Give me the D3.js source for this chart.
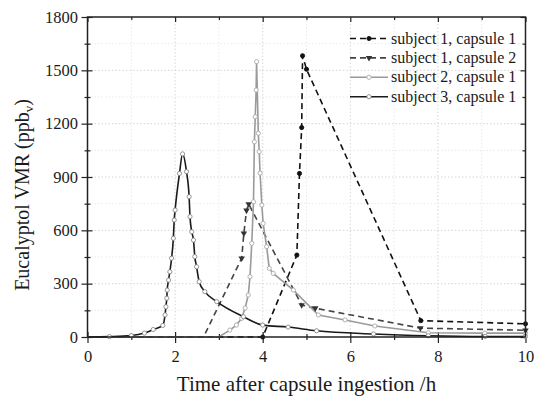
<!DOCTYPE html>
<html>
<head>
<meta charset="utf-8">
<script src="https://cdn.jsdelivr.net/npm/d3@7"></script>
<style>
  body { margin: 0; background: #fff; }
  svg text { font-family: "Liberation Serif", "Times New Roman", serif; fill: #1a1a1a; }
</style>
</head>
<body>
<svg id="chart" width="535" height="402"></svg>
<script>
// tick values
const xMajor = [0, 2, 4, 6, 8, 10];
const xMinor = [1, 3, 5, 7, 9];
const yMajor = [0, 300, 600, 900, 1200, 1500, 1800];
const yMinor = [150, 450, 750, 1050, 1350, 1650];

// series: [time h, VMR ppbv]
const s1c1 = [[0,0],[4.0,0],[4.78,461],[4.84,920],[4.89,1178],[4.91,1582],[5.0,1506],[7.61,92],[10,74]];
const s1c2 = [[0,0],[2.65,0],[3.52,443],[3.57,583],[3.63,712],[3.68,748],[4.89,180],[5.2,162],[7.6,50],[10,38]];
const s2c1 = [[0,0],[3.0,0],[3.25,39],[3.4,67],[3.52,105],[3.6,163],[3.67,236],[3.71,339],[3.75,527],[3.79,761],
  [3.81,1098],[3.83,1239],[3.85,1389],[3.86,1549],[3.9,1146],[3.92,1042],[3.94,922],[3.98,742],[4.01,639],
  [4.09,508],[4.15,386],[4.24,358],[4.7,264],[5.27,124],[5.88,96],[6.56,62],[7.78,24],[9.07,22],[10,22]];
const s3c1 = [[0,0],[0.5,2],[1.0,8],[1.3,22],[1.5,42],[1.72,65],[1.77,124],[1.79,170],[1.81,218],[1.82,264],
  [1.85,320],[1.88,367],[1.92,443],[1.96,555],[1.98,658],[2.0,714],[2.1,920],[2.17,1030],[2.26,930],[2.32,789],
  [2.34,677],[2.38,592],[2.42,545],[2.45,452],[2.49,395],[2.55,311],[2.68,255],[2.95,199],[3.56,114],[4.0,67],
  [4.58,56],[5.23,35],[6.53,17],[7.78,7],[9.08,3],[10,3]];

const seriesNames = ["subject 1, capsule 1", "subject 1, capsule 2", "subject 2, capsule 1", "subject 3, capsule 1"];

const series = [
  { name: seriesNames[0], data: s1c1, color: "#111", dash: "6,4", marker: "circle", mFill: "#111", mStroke: "#111", curve: d3.curveLinear },
  { name: seriesNames[1], data: s1c2, color: "#444", dash: "6,4", marker: "triangle", mFill: "#333", mStroke: "#333", curve: d3.curveLinear },
  { name: seriesNames[2], data: s2c1, color: "#9a9a9a", dash: null, marker: "open", mFill: "#fff", mStroke: "#aaa", curve: d3.curveLinear },
  { name: seriesNames[3], data: s3c1, color: "#1a1a1a", dash: null, marker: "open", mFill: "#fff", mStroke: "#8a8a8a", curve: d3.curveMonotoneX }
];

const svg = d3.select("#chart");
const plotL = 87.5, plotR = 525.5, plotT = 17, plotB = 337;

const x = d3.scaleLinear().domain([0, 10]).range([plotL, plotR]);
const y = d3.scaleLinear().domain([0, 1800]).range([plotB, plotT]);

// grid
const grid = svg.append("g");
grid.selectAll(".gx").data(xMinor.concat(xMajor.slice(1, -1))).enter().append("line")
  .attr("x1", d => x(d)).attr("x2", d => x(d)).attr("y1", plotT).attr("y2", plotB)
  .attr("stroke", d => xMajor.includes(d) ? "#d6d6d6" : "#e8e8e8")
  .attr("stroke-dasharray", "1.5,2");
grid.selectAll(".gy").data(yMinor.concat(yMajor.slice(1, -1))).enter().append("line")
  .attr("y1", d => y(d)).attr("y2", d => y(d)).attr("x1", plotL).attr("x2", plotR)
  .attr("stroke", d => yMajor.includes(d) ? "#d6d6d6" : "#e8e8e8")
  .attr("stroke-dasharray", "1.5,2");

// axes
function styleAxis(g) {
  g.select(".domain").remove();
  g.selectAll(".tick line").attr("stroke", "#222").attr("stroke-width", 1.2);
  g.selectAll(".tick text").style("font-size", "16.5px").attr("fill", "#1a1a1a");
}

svg.append("g").attr("transform", `translate(0,${plotB})`)
  .call(d3.axisBottom(x).tickValues(xMajor).tickSize(6).tickPadding(7).tickFormat(d3.format("d")))
  .call(styleAxis);
svg.append("g").attr("transform", `translate(0,${plotB})`)
  .call(d3.axisBottom(x).tickValues(xMinor).tickSize(3).tickFormat(""))
  .call(styleAxis);
svg.append("g").attr("transform", `translate(0,${plotB})`)
  .call(d3.axisTop(x).tickValues(xMajor).tickSize(5).tickFormat(""))
  .call(styleAxis);
svg.append("g").attr("transform", `translate(0,${plotB})`)
  .call(d3.axisTop(x).tickValues(xMinor).tickSize(3).tickFormat(""))
  .call(styleAxis);
svg.append("g").attr("transform", `translate(0,${plotT})`)
  .call(d3.axisBottom(x).tickValues(xMajor).tickSize(5).tickFormat(""))
  .call(styleAxis);
svg.append("g").attr("transform", `translate(0,${plotT})`)
  .call(d3.axisBottom(x).tickValues(xMinor).tickSize(3).tickFormat(""))
  .call(styleAxis);

svg.append("g").attr("transform", `translate(${plotL},0)`)
  .call(d3.axisLeft(y).tickValues(yMajor).tickSize(6).tickPadding(3.5).tickFormat(d3.format("d")))
  .call(styleAxis);
svg.append("g").attr("transform", `translate(${plotL},0)`)
  .call(d3.axisLeft(y).tickValues(yMinor).tickSize(3).tickFormat(""))
  .call(styleAxis);
svg.append("g").attr("transform", `translate(${plotL},0)`)
  .call(d3.axisRight(y).tickValues(yMajor).tickSize(5).tickFormat(""))
  .call(styleAxis);
svg.append("g").attr("transform", `translate(${plotL},0)`)
  .call(d3.axisRight(y).tickValues(yMinor).tickSize(3).tickFormat(""))
  .call(styleAxis);
svg.append("g").attr("transform", `translate(${plotR},0)`)
  .call(d3.axisLeft(y).tickValues(yMajor).tickSize(5).tickFormat(""))
  .call(styleAxis);
svg.append("g").attr("transform", `translate(${plotR},0)`)
  .call(d3.axisLeft(y).tickValues(yMinor).tickSize(3).tickFormat(""))
  .call(styleAxis);

// lines
const line = d3.line().x(d => x(d[0])).y(d => y(d[1]));
const plot = svg.append("g");

function drawMarker(g, s, cx, cy) {
  if (s.marker === "triangle") {
    g.append("path")
      .attr("d", d3.symbol().type(d3.symbolTriangle).size(18)())
      .attr("transform", `translate(${cx},${cy}) rotate(180)`)
      .attr("fill", s.mFill);
  } else {
    g.append("circle").attr("cx", cx).attr("cy", cy)
      .attr("r", s.marker === "circle" ? 2.1 : 2.1)
      .attr("fill", s.mFill).attr("stroke", s.mStroke).attr("stroke-width", 0.9);
  }
}

series.forEach(s => {
  plot.append("path")
    .datum(s.data)
    .attr("d", line.curve(s.curve))
    .attr("fill", "none")
    .attr("stroke", s.color)
    .attr("stroke-width", 1.6)
    .attr("stroke-dasharray", s.dash);
});
// markers drawn after lines
[2, 3, 1, 0].forEach(i => {
  const s = series[i];
  const mg = plot.append("g");
  s.data.forEach(d => {
    if (d[1] === 0 && d[0] < 3.5) return;
    drawMarker(mg, s, x(d[0]), y(d[1]));
  });
});

// frame
svg.append("rect")
  .attr("x", plotL).attr("y", plotT)
  .attr("width", plotR - plotL).attr("height", plotB - plotT)
  .attr("fill", "none").attr("stroke", "#222").attr("stroke-width", 1.5);

// legend
const legend = svg.append("g");
series.forEach((s, i) => {
  const cy = 38.5 + i * 19.4;
  const g = legend.append("g");
  g.append("line")
    .attr("x1", 350).attr("x2", 388).attr("y1", cy).attr("y2", cy)
    .attr("stroke", s.color).attr("stroke-width", 1.6)
    .attr("stroke-dasharray", s.dash);
  drawMarker(g, s, 369, cy);
  g.append("text")
    .attr("x", 391).attr("y", cy + 5)
    .style("font-size", "16px")
    .text(s.name);
});

// axis titles
svg.append("text")
  .attr("x", (plotL + plotR) / 2).attr("y", 391)
  .attr("text-anchor", "middle")
  .style("font-size", "21px")
  .text("Time after capsule ingestion /h");

const yt = svg.append("text")
  .attr("transform", "translate(29,195) rotate(-90)")
  .attr("text-anchor", "middle")
  .style("font-size", "20px");
yt.append("tspan").text("Eucalyptol VMR (ppb");
yt.append("tspan").attr("dy", 4).style("font-size", "13px").text("v");
yt.append("tspan").attr("dy", -4).text(")");
</script>
</body>
</html>
